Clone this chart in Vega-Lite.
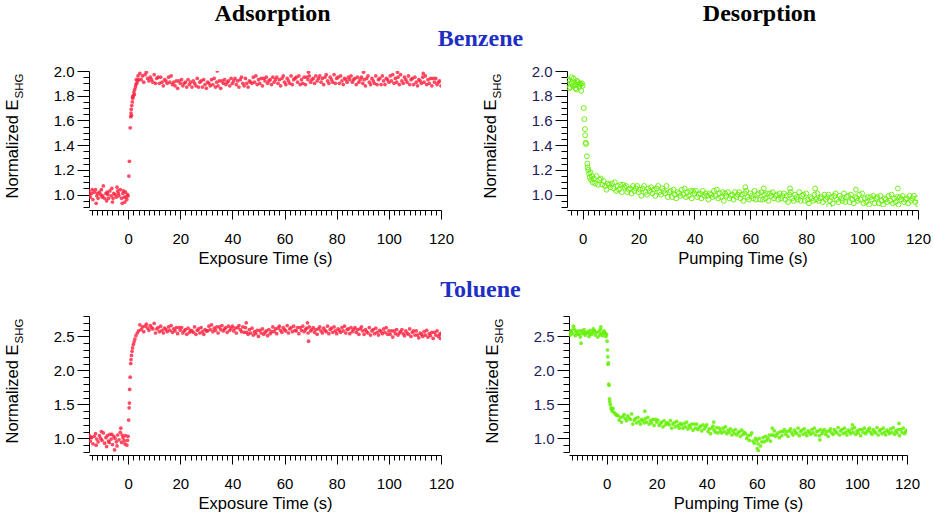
{
"$schema":"https://vega.github.io/schema/vega-lite/v6.json",
"background":"white",
"padding":{"left":4,"top":1,"right":5,"bottom":0},
"config":{"view":{"stroke":null},"font":"Liberation Sans",
"axis":{"grid":false,"labelFont":"Liberation Sans","labelFontSize":15,"labelColor":"#000","titleFont":"Liberation Sans","titleFontSize":16.5,"titleFontWeight":"normal","titleColor":"#000","domainColor":"#000","tickColor":"#000","domainWidth":1,"tickWidth":1}},
"datasets":{
"ba":[{"t":-15,"v":1.03},{"t":-14.75,"v":1.0},{"t":-14.5,"v":0.98},{"t":-14,"v":1.01},{"t":-13.75,"v":1.04},{"t":-13.5,"v":0.96},{"t":-13,"v":1.02},{"t":-12.5,"v":1.04},{"t":-12.25,"v":0.93},{"t":-12,"v":0.99},{"t":-11.75,"v":1.01},{"t":-11.5,"v":0.97},{"t":-11,"v":1.02},{"t":-10.5,"v":1.0},{"t":-10.25,"v":1.04},{"t":-10,"v":0.98},{"t":-9.75,"v":0.99},{"t":-9.5,"v":1.07},{"t":-9,"v":0.97},{"t":-8.5,"v":1.01},{"t":-8.25,"v":0.95},{"t":-8,"v":1.02},{"t":-7.75,"v":1.0},{"t":-7.5,"v":0.97},{"t":-7,"v":1.03},{"t":-6.5,"v":0.99},{"t":-6.25,"v":1.05},{"t":-6,"v":0.94},{"t":-5.75,"v":0.97},{"t":-5.5,"v":1.01},{"t":-5,"v":1.0},{"t":-4.5,"v":0.98},{"t":-4.25,"v":1.06},{"t":-4,"v":1.03},{"t":-3.75,"v":1.01},{"t":-3.5,"v":0.99},{"t":-3,"v":1.04},{"t":-2.5,"v":0.97},{"t":-2.25,"v":0.93},{"t":-2,"v":1.01},{"t":-1.75,"v":1.03},{"t":-1.5,"v":0.98},{"t":-1.25,"v":0.94},{"t":-1,"v":1.02},{"t":-0.75,"v":0.98},{"t":-0.5,"v":0.96},{"t":-0.25,"v":1.0},{"t":0,"v":0.99},
{"t":0.3,"v":1.15},{"t":0.5,"v":1.27},{"t":0.8,"v":1.54},{"t":1.0,"v":1.63},{"t":1.1,"v":1.66},{"t":1.2,"v":1.69},{"t":1.3,"v":1.64},{"t":1.4,"v":1.72},{"t":1.6,"v":1.75},{"t":1.7,"v":1.79},{"t":1.8,"v":1.78},{"t":2.0,"v":1.8},{"t":2.2,"v":1.83},{"t":2.4,"v":1.81},{"t":2.5,"v":1.85},{"t":2.8,"v":1.87},{"t":3.0,"v":1.89},{"t":3.1,"v":1.93},{"t":3.3,"v":1.9},{"t":3.6,"v":1.92},{"t":3.8,"v":1.96},{"t":4.0,"v":1.93},
{"t":4.5,"v":1.98},{"t":5,"v":1.93},{"t":5.5,"v":1.96},{"t":6,"v":1.91},{"t":6.5,"v":1.97},{"t":7,"v":1.99},{"t":7.5,"v":1.94},{"t":8,"v":1.92},{"t":8.5,"v":1.95},{"t":9,"v":1.93},{"t":9.5,"v":1.91},{"t":10,"v":1.97},{"t":10.5,"v":1.9},{"t":11,"v":1.94},{"t":11.5,"v":1.95},{"t":12,"v":1.9},{"t":12.5,"v":1.95},{"t":13,"v":1.91},{"t":13.5,"v":1.88},{"t":14,"v":1.93},{"t":14.5,"v":1.92},{"t":15,"v":1.9},{"t":15.5,"v":1.95},{"t":16,"v":1.91},{"t":16.5,"v":1.96},{"t":17,"v":1.89},{"t":17.5,"v":1.91},{"t":18,"v":1.88},{"t":18.5,"v":1.92},{"t":19,"v":1.86},{"t":19.5,"v":1.92},{"t":20,"v":1.9},{"t":20.5,"v":1.93},{"t":21,"v":1.88},{"t":21.5,"v":1.9},{"t":22,"v":1.91},{"t":22.5,"v":1.87},{"t":23,"v":1.93},{"t":23.5,"v":1.89},{"t":24,"v":1.91},{"t":24.5,"v":1.87},{"t":25,"v":1.92},{"t":25.5,"v":1.9},{"t":26,"v":1.88},{"t":26.5,"v":1.94},{"t":27,"v":1.87},{"t":27.5,"v":1.91},{"t":28,"v":1.92},{"t":28.5,"v":1.87},{"t":29,"v":1.93},{"t":29.5,"v":1.89},{"t":30,"v":1.86},{"t":30.5,"v":1.91},{"t":31,"v":1.9},{"t":31.5,"v":1.88},{"t":32,"v":1.93},{"t":32.5,"v":1.89},{"t":33,"v":1.94},{"t":33.5,"v":1.87},{"t":34,"v":1.91},{"t":34.2,"v":2.0},{"t":34.5,"v":1.88},{"t":35,"v":1.92},{"t":35.5,"v":1.86},{"t":36,"v":1.92},{"t":36.5,"v":1.9},{"t":37,"v":1.93},{"t":37.5,"v":1.89},{"t":38,"v":1.91},{"t":38.5,"v":1.92},{"t":39,"v":1.88},{"t":39.5,"v":1.94},{"t":40,"v":1.9},{"t":40.5,"v":1.92},{"t":41,"v":1.94},{"t":41.5,"v":1.89},{"t":42,"v":1.92},{"t":42.5,"v":1.87},{"t":43,"v":1.93},{"t":43.5,"v":1.95},{"t":44,"v":1.9},{"t":44.5,"v":1.88},{"t":45,"v":1.94},{"t":45.5,"v":1.9},{"t":46,"v":1.87},{"t":46.5,"v":1.92},{"t":47,"v":1.91},{"t":47.5,"v":1.9},{"t":48,"v":1.95},{"t":48.5,"v":1.91},{"t":49,"v":1.96},{"t":49.5,"v":1.89},{"t":50,"v":1.93},{"t":50.5,"v":1.9},{"t":51,"v":1.94},{"t":51.5,"v":1.88},{"t":52,"v":1.94},{"t":52.5,"v":1.92},{"t":53,"v":1.95},{"t":53.5,"v":1.9},{"t":54,"v":1.92},{"t":54.5,"v":1.93},{"t":55,"v":1.89},{"t":55.5,"v":1.95},{"t":56,"v":1.91},{"t":56.5,"v":1.93},{"t":57,"v":1.95},{"t":57.5,"v":1.9},{"t":58,"v":1.93},{"t":58.5,"v":1.88},{"t":59,"v":1.94},{"t":59.5,"v":1.96},{"t":60,"v":1.91},{"t":60.5,"v":1.89},{"t":61,"v":1.94},{"t":61.5,"v":1.92},{"t":62,"v":1.9},{"t":62.5,"v":1.96},{"t":63,"v":1.89},{"t":63.5,"v":1.93},{"t":64,"v":1.94},{"t":64.5,"v":1.95},{"t":65,"v":1.91},{"t":65.5,"v":1.96},{"t":66,"v":1.89},{"t":66.5,"v":1.93},{"t":67,"v":1.9},{"t":67.5,"v":1.95},{"t":68,"v":1.89},{"t":68.5,"v":1.95},{"t":69,"v":1.93},{"t":69.2,"v":1.99},{"t":69.5,"v":1.96},{"t":70,"v":1.91},{"t":70.5,"v":1.93},{"t":71,"v":1.94},{"t":71.5,"v":1.9},{"t":72,"v":1.96},{"t":72.5,"v":1.92},{"t":73,"v":1.94},{"t":73.5,"v":1.96},{"t":74,"v":1.91},{"t":74.5,"v":1.94},{"t":75,"v":1.89},{"t":75.5,"v":1.95},{"t":76,"v":1.97},{"t":76.5,"v":1.92},{"t":77,"v":1.9},{"t":77.5,"v":1.95},{"t":78,"v":1.93},{"t":78.5,"v":1.91},{"t":79,"v":1.97},{"t":79.5,"v":1.9},{"t":80,"v":1.94},{"t":80.5,"v":1.95},{"t":81,"v":1.9},{"t":81.5,"v":1.96},{"t":82,"v":1.92},{"t":82.5,"v":1.89},{"t":83,"v":1.94},{"t":83.5,"v":1.93},{"t":84,"v":1.91},{"t":84.5,"v":1.95},{"t":85,"v":1.93},{"t":85.5,"v":1.96},{"t":86,"v":1.91},{"t":86.5,"v":1.93},{"t":87,"v":1.94},{"t":87.5,"v":1.89},{"t":88,"v":1.95},{"t":88.5,"v":1.91},{"t":89,"v":1.93},{"t":89.5,"v":1.95},{"t":90,"v":1.9},{"t":90.3,"v":1.99},{"t":90.5,"v":1.93},{"t":91,"v":1.88},{"t":91.5,"v":1.94},{"t":92,"v":1.96},{"t":92.5,"v":1.91},{"t":93,"v":1.89},{"t":93.5,"v":1.94},{"t":94,"v":1.92},{"t":94.5,"v":1.9},{"t":95,"v":1.96},{"t":95.5,"v":1.89},{"t":96,"v":1.93},{"t":96.5,"v":1.94},{"t":97,"v":1.89},{"t":97.5,"v":1.96},{"t":98,"v":1.92},{"t":98.5,"v":1.89},{"t":99,"v":1.94},{"t":99.5,"v":1.93},{"t":100,"v":1.91},{"t":100.5,"v":1.96},{"t":101,"v":1.92},{"t":101.5,"v":1.97},{"t":102,"v":1.9},{"t":102.5,"v":1.94},{"t":103,"v":1.91},{"t":103.3,"v":1.99},{"t":103.5,"v":1.95},{"t":104,"v":1.89},{"t":104.5,"v":1.97},{"t":105,"v":1.92},{"t":105.5,"v":1.9},{"t":106,"v":1.95},{"t":106.5,"v":1.93},{"t":107,"v":1.91},{"t":107.5,"v":1.96},{"t":108,"v":1.89},{"t":108.5,"v":1.93},{"t":109,"v":1.94},{"t":109.5,"v":1.89},{"t":110,"v":1.95},{"t":110.5,"v":1.91},{"t":111,"v":1.88},{"t":111.5,"v":1.93},{"t":112,"v":1.92},{"t":112.5,"v":1.9},{"t":113,"v":1.95},{"t":113.2,"v":1.98},{"t":113.5,"v":1.91},{"t":114,"v":1.96},{"t":114.5,"v":1.89},{"t":115,"v":1.93},{"t":115.5,"v":1.9},{"t":116,"v":1.94},{"t":116.5,"v":1.88},{"t":117,"v":1.94},{"t":117.5,"v":1.91},{"t":118,"v":1.94},{"t":118.5,"v":1.89},{"t":119,"v":1.91},{"t":119.5,"v":1.92},{"t":120,"v":1.88}],
"bd":[{"t":-5.5,"v":1.9},{"t":-5.25,"v":1.92},{"t":-5,"v":1.93},{"t":-4.75,"v":1.86},{"t":-4.5,"v":1.87},{"t":-4,"v":1.95},{"t":-3.75,"v":1.9},{"t":-3.5,"v":1.88},{"t":-3.25,"v":1.94},{"t":-3,"v":1.91},{"t":-2.75,"v":1.89},{"t":-2.5,"v":1.86},{"t":-2.25,"v":1.85},{"t":-2,"v":1.92},{"t":-1.75,"v":1.91},{"t":-1.5,"v":1.89},{"t":-1.25,"v":1.87},{"t":-1,"v":1.9},{"t":-0.75,"v":1.89},{"t":-0.5,"v":1.84},{"t":-0.25,"v":1.9},{"t":0,"v":1.88},
{"t":0.4,"v":1.7},{"t":0.6,"v":1.61},{"t":0.8,"v":1.53},{"t":0.9,"v":1.48},{"t":1.1,"v":1.42},{"t":1.2,"v":1.41},{"t":1.5,"v":1.31},{"t":1.7,"v":1.25},{"t":1.8,"v":1.22},{"t":2.0,"v":1.2},{"t":2.3,"v":1.17},{"t":2.5,"v":1.14},{"t":2.8,"v":1.18},{"t":3.0,"v":1.12},{"t":3.3,"v":1.15},{"t":3.6,"v":1.1},{"t":4.0,"v":1.13},
{"t":4.5,"v":1.09},{"t":5,"v":1.15},{"t":5.5,"v":1.08},{"t":6,"v":1.12},{"t":6.5,"v":1.13},{"t":7,"v":1.08},{"t":7.5,"v":1.11},{"t":8,"v":1.07},{"t":8.5,"v":1.04},{"t":9,"v":1.09},{"t":9.5,"v":1.08},{"t":10,"v":1.06},{"t":10.5,"v":1.09},{"t":11,"v":1.05},{"t":11.5,"v":1.1},{"t":12,"v":1.03},{"t":12.5,"v":1.07},{"t":13,"v":1.04},{"t":13.5,"v":1.08},{"t":14,"v":1.02},{"t":14.5,"v":1.08},{"t":15,"v":1.06},{"t":15.5,"v":1.07},{"t":16,"v":1.02},{"t":16.5,"v":1.04},{"t":17,"v":1.05},{"t":17.5,"v":1.01},{"t":18,"v":1.07},{"t":18.5,"v":1.03},{"t":19,"v":1.05},{"t":19.5,"v":1.07},{"t":20,"v":1.02},{"t":20.5,"v":1.04},{"t":21,"v":0.99},{"t":21.5,"v":1.05},{"t":22,"v":1.07},{"t":22.5,"v":1.02},{"t":23,"v":1.0},{"t":23.5,"v":1.05},{"t":24,"v":1.03},{"t":24.5,"v":1.06},{"t":25,"v":1.01},{"t":25.5,"v":1.04},{"t":26,"v":0.99},{"t":26.5,"v":1.05},{"t":27,"v":1.07},{"t":27.5,"v":1.02},{"t":28,"v":1.0},{"t":28.5,"v":1.05},{"t":29,"v":1.03},{"t":29.5,"v":1.01},{"t":30,"v":1.07},{"t":30.5,"v":0.98},{"t":31,"v":1.02},{"t":31.5,"v":1.03},{"t":32,"v":0.98},{"t":32.5,"v":1.04},{"t":33,"v":1.0},{"t":33.5,"v":0.97},{"t":34,"v":1.02},{"t":34.5,"v":1.01},{"t":35,"v":0.99},{"t":35.5,"v":1.04},{"t":36,"v":1.0},{"t":36.5,"v":1.05},{"t":37,"v":0.98},{"t":37.5,"v":1.02},{"t":38,"v":0.99},{"t":38.5,"v":1.03},{"t":39,"v":0.97},{"t":39.5,"v":1.03},{"t":40,"v":1.01},{"t":40.5,"v":1.03},{"t":41,"v":0.98},{"t":41.5,"v":1.0},{"t":42,"v":1.01},{"t":42.5,"v":0.97},{"t":43,"v":1.03},{"t":43.5,"v":0.99},{"t":44,"v":1.01},{"t":44.5,"v":0.99},{"t":45,"v":0.96},{"t":45.5,"v":1.01},{"t":46,"v":1.0},{"t":46.5,"v":0.98},{"t":47,"v":1.03},{"t":47.5,"v":0.99},{"t":48,"v":1.04},{"t":48.5,"v":0.97},{"t":49,"v":1.01},{"t":49.5,"v":0.98},{"t":50,"v":1.02},{"t":50.5,"v":0.95},{"t":51,"v":1.01},{"t":51.5,"v":0.99},{"t":52,"v":1.02},{"t":52.5,"v":0.97},{"t":53,"v":0.99},{"t":53.5,"v":1.0},{"t":54,"v":0.96},{"t":54.5,"v":1.02},{"t":55,"v":0.98},{"t":55.5,"v":1.0},{"t":56,"v":1.02},{"t":56.5,"v":0.97},{"t":57,"v":1.0},{"t":57.5,"v":0.95},{"t":58,"v":1.01},{"t":58.2,"v":1.06},{"t":58.5,"v":1.03},{"t":59,"v":0.98},{"t":59.5,"v":0.96},{"t":60,"v":1.01},{"t":60.5,"v":0.99},{"t":61,"v":0.97},{"t":61.5,"v":1.03},{"t":62,"v":0.96},{"t":62.5,"v":1.0},{"t":63,"v":1.01},{"t":63.5,"v":0.96},{"t":64,"v":1.02},{"t":64.5,"v":0.96},{"t":64.8,"v":1.05},{"t":65,"v":1.0},{"t":65.5,"v":0.97},{"t":66,"v":1.01},{"t":66.5,"v":0.95},{"t":67,"v":1.01},{"t":67.5,"v":0.99},{"t":68,"v":1.02},{"t":68.5,"v":0.97},{"t":69,"v":0.99},{"t":69.5,"v":1.0},{"t":70,"v":0.96},{"t":70.5,"v":1.01},{"t":71,"v":0.97},{"t":71.5,"v":0.99},{"t":72,"v":1.01},{"t":72.5,"v":0.96},{"t":73,"v":0.99},{"t":73.5,"v":0.94},{"t":74,"v":1.0},{"t":74.2,"v":1.05},{"t":74.5,"v":1.02},{"t":75,"v":0.97},{"t":75.5,"v":0.95},{"t":76,"v":1.0},{"t":76.5,"v":0.98},{"t":77,"v":0.96},{"t":77.5,"v":1.02},{"t":78,"v":0.95},{"t":78.5,"v":0.99},{"t":79,"v":1.0},{"t":79.5,"v":0.95},{"t":80,"v":1.01},{"t":80.5,"v":0.96},{"t":81,"v":0.93},{"t":81.5,"v":0.98},{"t":82,"v":0.97},{"t":82.5,"v":0.95},{"t":83,"v":1.0},{"t":83.2,"v":1.05},{"t":83.5,"v":0.96},{"t":84,"v":1.01},{"t":84.5,"v":0.95},{"t":85,"v":0.97},{"t":85.5,"v":0.98},{"t":86,"v":0.94},{"t":86.5,"v":1.0},{"t":87,"v":0.96},{"t":87.5,"v":0.98},{"t":88,"v":1.0},{"t":88.2,"v":0.91},{"t":88.5,"v":0.95},{"t":89,"v":0.98},{"t":89.5,"v":0.93},{"t":90,"v":0.99},{"t":90.5,"v":1.01},{"t":91,"v":0.96},{"t":91.5,"v":0.94},{"t":92,"v":0.99},{"t":92.5,"v":0.97},{"t":93,"v":0.95},{"t":93.5,"v":1.01},{"t":94,"v":0.94},{"t":94.5,"v":0.98},{"t":95,"v":0.99},{"t":95.5,"v":0.94},{"t":96,"v":1.0},{"t":96.5,"v":0.96},{"t":97,"v":0.93},{"t":97.5,"v":0.98},{"t":97.8,"v":1.04},{"t":98,"v":0.97},{"t":98.5,"v":0.95},{"t":99,"v":1.0},{"t":99.5,"v":0.96},{"t":100,"v":1.01},{"t":100.5,"v":0.93},{"t":101,"v":0.97},{"t":101.5,"v":0.94},{"t":102,"v":0.98},{"t":102.5,"v":0.92},{"t":103,"v":0.98},{"t":103.5,"v":0.96},{"t":104,"v":0.99},{"t":104.5,"v":0.93},{"t":105,"v":0.97},{"t":105.5,"v":0.98},{"t":106,"v":0.93},{"t":106.5,"v":0.99},{"t":107,"v":0.95},{"t":107.5,"v":0.92},{"t":108,"v":0.97},{"t":108.5,"v":0.96},{"t":109,"v":0.94},{"t":109.5,"v":0.99},{"t":110,"v":0.95},{"t":110.5,"v":1.0},{"t":111,"v":0.93},{"t":111.5,"v":0.97},{"t":112,"v":0.94},{"t":112.5,"v":0.98},{"t":112.8,"v":1.05},{"t":113,"v":0.92},{"t":113.5,"v":0.98},{"t":114,"v":0.96},{"t":114.5,"v":0.99},{"t":115,"v":0.94},{"t":115.5,"v":0.96},{"t":116,"v":0.97},{"t":116.5,"v":0.93},{"t":117,"v":0.99},{"t":117.5,"v":0.95},{"t":118,"v":0.97},{"t":118.5,"v":0.99},{"t":119,"v":0.94},{"t":119.5,"v":0.97},{"t":120,"v":0.92}],
"ta":[{"t":-15,"v":1.05},{"t":-14.5,"v":0.96},{"t":-14.25,"v":1.02},{"t":-14,"v":1.01},{"t":-13.5,"v":0.92},{"t":-13,"v":1.03},{"t":-12.5,"v":1.07},{"t":-12.25,"v":0.9},{"t":-12,"v":0.99},{"t":-11.5,"v":0.95},{"t":-11,"v":1.04},{"t":-10.5,"v":1.0},{"t":-10.25,"v":1.1},{"t":-10,"v":0.97},{"t":-9.5,"v":1.08},{"t":-9,"v":0.93},{"t":-8.5,"v":1.01},{"t":-8.25,"v":0.88},{"t":-8,"v":1.04},{"t":-7.5,"v":0.96},{"t":-7.25,"v":0.94},{"t":-7,"v":1.06},{"t":-6.5,"v":0.99},{"t":-6.25,"v":1.06},{"t":-6,"v":0.91},{"t":-5.5,"v":1.03},{"t":-5.2,"v":0.83},{"t":-5,"v":1.0},{"t":-4.5,"v":0.95},{"t":-4.25,"v":0.89},{"t":-4,"v":1.05},{"t":-3.5,"v":0.98},{"t":-3,"v":1.09},{"t":-2.8,"v":1.15},{"t":-2.5,"v":0.94},{"t":-2.25,"v":1.05},{"t":-2,"v":1.01},{"t":-1.5,"v":0.97},{"t":-1.25,"v":0.92},{"t":-1,"v":1.04},{"t":-0.5,"v":0.9},{"t":-0.25,"v":0.97},{"t":0,"v":1.03},
{"t":0.2,"v":1.27},{"t":0.4,"v":1.45},{"t":0.5,"v":1.52},{"t":0.6,"v":1.72},{"t":0.8,"v":1.9},{"t":1.0,"v":2.1},{"t":1.1,"v":2.16},{"t":1.3,"v":2.22},{"t":1.5,"v":2.28},{"t":1.7,"v":2.33},{"t":2.0,"v":2.38},{"t":2.3,"v":2.42},{"t":2.6,"v":2.46},{"t":3.0,"v":2.51},{"t":3.5,"v":2.55},{"t":4.0,"v":2.58},
{"t":4.5,"v":2.67},{"t":5,"v":2.6},{"t":5.5,"v":2.64},{"t":6,"v":2.57},{"t":6.5,"v":2.65},{"t":7,"v":2.68},{"t":7.5,"v":2.62},{"t":8,"v":2.59},{"t":8.5,"v":2.66},{"t":9,"v":2.63},{"t":9.5,"v":2.61},{"t":10,"v":2.69},{"t":10.5,"v":2.55},{"t":11,"v":2.61},{"t":11.5,"v":2.63},{"t":12,"v":2.57},{"t":12.5,"v":2.65},{"t":13,"v":2.59},{"t":13.5,"v":2.55},{"t":14,"v":2.62},{"t":14.5,"v":2.6},{"t":15,"v":2.57},{"t":15.5,"v":2.64},{"t":16,"v":2.59},{"t":16.5,"v":2.66},{"t":17,"v":2.56},{"t":17.5,"v":2.61},{"t":18,"v":2.58},{"t":18.5,"v":2.63},{"t":19,"v":2.54},{"t":19.5,"v":2.63},{"t":20,"v":2.59},{"t":20.5,"v":2.63},{"t":21,"v":2.55},{"t":21.5,"v":2.58},{"t":22,"v":2.6},{"t":22.5,"v":2.53},{"t":23,"v":2.62},{"t":23.5,"v":2.56},{"t":24,"v":2.59},{"t":24.5,"v":2.58},{"t":25,"v":2.56},{"t":25.5,"v":2.64},{"t":26,"v":2.53},{"t":26.5,"v":2.59},{"t":27,"v":2.61},{"t":27.5,"v":2.55},{"t":28,"v":2.63},{"t":28.5,"v":2.57},{"t":29,"v":2.53},{"t":29.5,"v":2.6},{"t":30,"v":2.58},{"t":30.5,"v":2.58},{"t":31,"v":2.65},{"t":31.5,"v":2.6},{"t":32,"v":2.67},{"t":32.5,"v":2.57},{"t":33,"v":2.62},{"t":33.5,"v":2.59},{"t":34,"v":2.64},{"t":34.5,"v":2.55},{"t":35,"v":2.64},{"t":35.5,"v":2.6},{"t":36,"v":2.66},{"t":36.5,"v":2.58},{"t":37,"v":2.61},{"t":37.5,"v":2.63},{"t":38,"v":2.56},{"t":38.5,"v":2.65},{"t":39,"v":2.59},{"t":39.5,"v":2.62},{"t":40,"v":2.65},{"t":40.5,"v":2.58},{"t":41,"v":2.62},{"t":41.5,"v":2.55},{"t":42,"v":2.63},{"t":42.5,"v":2.66},{"t":43,"v":2.6},{"t":43.5,"v":2.57},{"t":44,"v":2.64},{"t":44.5,"v":2.56},{"t":45,"v":2.63},{"t":45.3,"v":2.7},{"t":45.5,"v":2.56},{"t":46,"v":2.53},{"t":46.5,"v":2.6},{"t":47,"v":2.55},{"t":47.5,"v":2.62},{"t":48,"v":2.52},{"t":48.5,"v":2.57},{"t":49,"v":2.54},{"t":49.5,"v":2.59},{"t":50,"v":2.5},{"t":50.5,"v":2.59},{"t":51,"v":2.55},{"t":51.5,"v":2.61},{"t":52,"v":2.53},{"t":52.5,"v":2.56},{"t":53,"v":2.58},{"t":53.5,"v":2.51},{"t":54,"v":2.6},{"t":54.5,"v":2.54},{"t":55,"v":2.57},{"t":55.5,"v":2.64},{"t":56,"v":2.57},{"t":56.5,"v":2.61},{"t":57,"v":2.54},{"t":57.5,"v":2.62},{"t":58,"v":2.65},{"t":58.5,"v":2.59},{"t":59,"v":2.56},{"t":59.5,"v":2.63},{"t":60,"v":2.6},{"t":60.5,"v":2.58},{"t":61,"v":2.66},{"t":61.5,"v":2.55},{"t":62,"v":2.61},{"t":62.5,"v":2.63},{"t":63,"v":2.57},{"t":63.5,"v":2.65},{"t":64,"v":2.59},{"t":64.5,"v":2.58},{"t":65,"v":2.63},{"t":65.5,"v":2.54},{"t":66,"v":2.63},{"t":66.5,"v":2.59},{"t":67,"v":2.65},{"t":67.5,"v":2.57},{"t":68,"v":2.6},{"t":68.5,"v":2.62},{"t":68.8,"v":2.7},{"t":69,"v":2.55},{"t":69.2,"v":2.43},{"t":69.5,"v":2.64},{"t":70,"v":2.58},{"t":70.5,"v":2.6},{"t":71,"v":2.63},{"t":71.5,"v":2.56},{"t":72,"v":2.6},{"t":72.5,"v":2.53},{"t":73,"v":2.61},{"t":73.5,"v":2.64},{"t":74,"v":2.58},{"t":74.5,"v":2.55},{"t":75,"v":2.62},{"t":75.5,"v":2.59},{"t":76,"v":2.57},{"t":76.5,"v":2.65},{"t":77,"v":2.54},{"t":77.5,"v":2.6},{"t":78,"v":2.62},{"t":78.5,"v":2.56},{"t":79,"v":2.64},{"t":79.5,"v":2.58},{"t":80,"v":2.54},{"t":80.5,"v":2.61},{"t":81,"v":2.59},{"t":81.5,"v":2.56},{"t":82,"v":2.63},{"t":82.5,"v":2.58},{"t":83,"v":2.65},{"t":83.5,"v":2.55},{"t":84,"v":2.6},{"t":84.5,"v":2.61},{"t":85,"v":2.54},{"t":85.5,"v":2.63},{"t":86,"v":2.57},{"t":86.5,"v":2.6},{"t":87,"v":2.63},{"t":87.5,"v":2.56},{"t":88,"v":2.6},{"t":88.5,"v":2.53},{"t":89,"v":2.61},{"t":89.5,"v":2.64},{"t":90,"v":2.58},{"t":90.5,"v":2.53},{"t":91,"v":2.6},{"t":91.5,"v":2.57},{"t":92,"v":2.55},{"t":92.5,"v":2.63},{"t":93,"v":2.52},{"t":93.5,"v":2.58},{"t":94,"v":2.6},{"t":94.5,"v":2.54},{"t":95,"v":2.62},{"t":95.5,"v":2.56},{"t":96,"v":2.52},{"t":96.5,"v":2.59},{"t":97,"v":2.57},{"t":97.5,"v":2.54},{"t":98,"v":2.61},{"t":98.5,"v":2.56},{"t":99,"v":2.63},{"t":99.5,"v":2.53},{"t":100,"v":2.58},{"t":100.5,"v":2.53},{"t":101,"v":2.58},{"t":101.5,"v":2.49},{"t":102,"v":2.58},{"t":102.5,"v":2.54},{"t":103,"v":2.6},{"t":103.5,"v":2.52},{"t":104,"v":2.55},{"t":104.5,"v":2.57},{"t":105,"v":2.6},{"t":105.5,"v":2.54},{"t":106,"v":2.51},{"t":106.5,"v":2.58},{"t":107,"v":2.55},{"t":107.5,"v":2.53},{"t":108,"v":2.61},{"t":108.5,"v":2.5},{"t":109,"v":2.56},{"t":109.5,"v":2.58},{"t":110,"v":2.52},{"t":110.5,"v":2.58},{"t":111,"v":2.52},{"t":111.5,"v":2.48},{"t":112,"v":2.55},{"t":112.5,"v":2.53},{"t":113,"v":2.5},{"t":113.5,"v":2.57},{"t":114,"v":2.52},{"t":114.5,"v":2.59},{"t":115,"v":2.49},{"t":115.5,"v":2.54},{"t":116,"v":2.51},{"t":116.5,"v":2.56},{"t":117,"v":2.47},{"t":117.5,"v":2.56},{"t":118,"v":2.52},{"t":118.5,"v":2.58},{"t":119,"v":2.5},{"t":119.5,"v":2.53},{"t":119.8,"v":2.47},{"t":120,"v":2.55}],
"td":[{"t":-15,"v":2.55},{"t":-14.5,"v":2.52},{"t":-14.25,"v":2.57},{"t":-14,"v":2.59},{"t":-13.5,"v":2.54},{"t":-13.2,"v":2.65},{"t":-13,"v":2.61},{"t":-12.5,"v":2.51},{"t":-12.25,"v":2.58},{"t":-12,"v":2.56},{"t":-11.5,"v":2.53},{"t":-11,"v":2.58},{"t":-10.75,"v":2.53},{"t":-10.5,"v":2.49},{"t":-10.2,"v":2.4},{"t":-10,"v":2.58},{"t":-9.5,"v":2.54},{"t":-9,"v":2.6},{"t":-8.75,"v":2.56},{"t":-8.5,"v":2.52},{"t":-8,"v":2.55},{"t":-7.5,"v":2.57},{"t":-7,"v":2.5},{"t":-6.75,"v":2.54},{"t":-6.5,"v":2.59},{"t":-6,"v":2.53},{"t":-5.5,"v":2.56},{"t":-5.25,"v":2.61},{"t":-5,"v":2.59},{"t":-4.75,"v":2.57},{"t":-4.5,"v":2.52},{"t":-4,"v":2.56},{"t":-3.5,"v":2.49},{"t":-3,"v":2.57},{"t":-2.75,"v":2.52},{"t":-2.5,"v":2.6},{"t":-2.3,"v":2.64},{"t":-2,"v":2.54},{"t":-1.5,"v":2.51},{"t":-1.25,"v":2.56},{"t":-1,"v":2.58},{"t":-0.5,"v":2.55},{"t":-0.25,"v":2.5},{"t":0,"v":2.53},
{"t":0.2,"v":2.43},{"t":0.35,"v":2.3},{"t":0.5,"v":2.2},{"t":0.6,"v":2.09},{"t":0.7,"v":2.11},{"t":0.9,"v":1.8},{"t":1.0,"v":1.78},{"t":1.2,"v":1.58},{"t":1.3,"v":1.54},{"t":1.5,"v":1.5},{"t":1.8,"v":1.45},{"t":2.0,"v":1.43},{"t":2.3,"v":1.4},{"t":2.6,"v":1.44},{"t":3.0,"v":1.38},{"t":3.5,"v":1.36},{"t":4.0,"v":1.34},
{"t":4.5,"v":1.34},{"t":5,"v":1.27},{"t":5.5,"v":1.31},{"t":6,"v":1.24},{"t":6.5,"v":1.32},{"t":7,"v":1.35},{"t":7.5,"v":1.29},{"t":8,"v":1.26},{"t":8.5,"v":1.33},{"t":9,"v":1.3},{"t":9.5,"v":1.28},{"t":10,"v":1.36},{"t":10.5,"v":1.21},{"t":11,"v":1.27},{"t":11.5,"v":1.29},{"t":12,"v":1.23},{"t":12.5,"v":1.31},{"t":13,"v":1.25},{"t":13.5,"v":1.21},{"t":14,"v":1.28},{"t":14.5,"v":1.26},{"t":15,"v":1.23},{"t":15.3,"v":1.4},{"t":15.5,"v":1.29},{"t":16,"v":1.24},{"t":16.5,"v":1.31},{"t":17,"v":1.21},{"t":17.5,"v":1.26},{"t":18,"v":1.23},{"t":18.5,"v":1.28},{"t":19,"v":1.19},{"t":19.5,"v":1.28},{"t":20,"v":1.24},{"t":20.5,"v":1.27},{"t":21,"v":1.19},{"t":21.5,"v":1.22},{"t":22,"v":1.24},{"t":22.5,"v":1.17},{"t":23,"v":1.26},{"t":23.5,"v":1.2},{"t":24,"v":1.23},{"t":24.5,"v":1.22},{"t":25,"v":1.2},{"t":25.5,"v":1.26},{"t":26,"v":1.15},{"t":26.5,"v":1.21},{"t":27,"v":1.23},{"t":27.5,"v":1.17},{"t":28,"v":1.25},{"t":28.5,"v":1.19},{"t":29,"v":1.15},{"t":29.5,"v":1.22},{"t":30,"v":1.2},{"t":30.5,"v":1.15},{"t":31,"v":1.22},{"t":31.5,"v":1.17},{"t":32,"v":1.24},{"t":32.5,"v":1.14},{"t":33,"v":1.19},{"t":33.5,"v":1.16},{"t":34,"v":1.21},{"t":34.5,"v":1.12},{"t":35,"v":1.21},{"t":35.5,"v":1.15},{"t":36,"v":1.21},{"t":36.5,"v":1.13},{"t":37,"v":1.16},{"t":37.5,"v":1.18},{"t":38,"v":1.11},{"t":38.5,"v":1.2},{"t":39,"v":1.14},{"t":39.5,"v":1.17},{"t":40,"v":1.2},{"t":40.5,"v":1.1},{"t":41,"v":1.14},{"t":41.5,"v":1.07},{"t":42,"v":1.15},{"t":42.5,"v":1.18},{"t":42.8,"v":1.24},{"t":43,"v":1.12},{"t":43.5,"v":1.09},{"t":44,"v":1.16},{"t":44.5,"v":1.08},{"t":45,"v":1.15},{"t":45.5,"v":1.11},{"t":46,"v":1.08},{"t":46.5,"v":1.15},{"t":47,"v":1.1},{"t":47.5,"v":1.17},{"t":48,"v":1.07},{"t":48.5,"v":1.12},{"t":49,"v":1.09},{"t":49.5,"v":1.14},{"t":50,"v":1.05},{"t":50.5,"v":1.11},{"t":51,"v":1.07},{"t":51.5,"v":1.13},{"t":52,"v":1.05},{"t":52.5,"v":1.08},{"t":53,"v":1.1},{"t":53.5,"v":1.03},{"t":54,"v":1.12},{"t":54.5,"v":1.06},{"t":55,"v":1.09},{"t":55.5,"v":1.07},{"t":56,"v":1.0},{"t":56.5,"v":1.04},{"t":57,"v":0.97},{"t":57.5,"v":1.05},{"t":58,"v":1.08},{"t":58.5,"v":0.96},{"t":59,"v":0.93},{"t":59.5,"v":1.0},{"t":60,"v":0.97},{"t":60.2,"v":0.85},{"t":60.5,"v":0.92},{"t":60.6,"v":0.82},{"t":61,"v":1.0},{"t":61.5,"v":0.89},{"t":62,"v":0.95},{"t":62.5,"v":1.01},{"t":63,"v":0.95},{"t":63.5,"v":1.03},{"t":64,"v":0.97},{"t":64.5,"v":1.0},{"t":65,"v":1.05},{"t":65.5,"v":0.96},{"t":66,"v":1.05},{"t":66.2,"v":1.15},{"t":66.5,"v":1.05},{"t":67,"v":1.11},{"t":67.5,"v":1.03},{"t":68,"v":1.06},{"t":68.5,"v":1.08},{"t":69,"v":1.01},{"t":69.5,"v":1.1},{"t":70,"v":1.04},{"t":70.5,"v":1.1},{"t":71,"v":1.13},{"t":71.5,"v":1.06},{"t":72,"v":1.1},{"t":72.5,"v":1.03},{"t":73,"v":1.11},{"t":73.5,"v":1.14},{"t":74,"v":1.08},{"t":74.5,"v":1.05},{"t":75,"v":1.12},{"t":75.5,"v":1.09},{"t":76,"v":1.07},{"t":76.5,"v":1.15},{"t":77,"v":1.04},{"t":77.5,"v":1.1},{"t":78,"v":1.12},{"t":78.5,"v":1.06},{"t":79,"v":1.14},{"t":79.5,"v":1.08},{"t":80,"v":1.04},{"t":80.5,"v":1.11},{"t":81,"v":1.09},{"t":81.5,"v":1.06},{"t":82,"v":1.13},{"t":82.5,"v":1.08},{"t":83,"v":1.15},{"t":83.5,"v":1.05},{"t":84,"v":1.1},{"t":84.5,"v":1.11},{"t":85,"v":1.04},{"t":85.2,"v":0.98},{"t":85.5,"v":1.13},{"t":86,"v":1.07},{"t":86.5,"v":1.1},{"t":87,"v":1.13},{"t":87.5,"v":1.06},{"t":88,"v":1.1},{"t":88.5,"v":1.03},{"t":89,"v":1.11},{"t":89.5,"v":1.14},{"t":90,"v":1.08},{"t":90.5,"v":1.06},{"t":91,"v":1.13},{"t":91.5,"v":1.1},{"t":92,"v":1.08},{"t":92.5,"v":1.16},{"t":93,"v":1.05},{"t":93.5,"v":1.11},{"t":94,"v":1.13},{"t":94.5,"v":1.07},{"t":95,"v":1.15},{"t":95.5,"v":1.09},{"t":96,"v":1.05},{"t":96.5,"v":1.12},{"t":97,"v":1.1},{"t":97.5,"v":1.07},{"t":98,"v":1.14},{"t":98.2,"v":1.2},{"t":98.5,"v":1.09},{"t":99,"v":1.16},{"t":99.5,"v":1.06},{"t":100,"v":1.11},{"t":100.5,"v":1.08},{"t":101,"v":1.13},{"t":101.5,"v":1.04},{"t":102,"v":1.13},{"t":102.5,"v":1.09},{"t":103,"v":1.15},{"t":103.5,"v":1.07},{"t":104,"v":1.1},{"t":104.5,"v":1.12},{"t":105,"v":1.15},{"t":105.5,"v":1.09},{"t":106,"v":1.06},{"t":106.5,"v":1.13},{"t":107,"v":1.1},{"t":107.5,"v":1.08},{"t":108,"v":1.16},{"t":108.5,"v":1.05},{"t":109,"v":1.11},{"t":109.5,"v":1.13},{"t":110,"v":1.07},{"t":110.5,"v":1.15},{"t":111,"v":1.09},{"t":111.5,"v":1.05},{"t":112,"v":1.12},{"t":112.5,"v":1.1},{"t":113,"v":1.07},{"t":113.5,"v":1.14},{"t":114,"v":1.09},{"t":114.5,"v":1.16},{"t":115,"v":1.06},{"t":115.5,"v":1.11},{"t":116,"v":1.08},{"t":116.5,"v":1.13},{"t":116.8,"v":1.22},{"t":117,"v":1.04},{"t":117.5,"v":1.13},{"t":118,"v":1.09},{"t":118.5,"v":1.15},{"t":119,"v":1.07},{"t":119.5,"v":1.1},{"t":120,"v":1.12}]
},
"spacing":10,
"vconcat":[
{"bounds":"flush","spacing":126,
 "hconcat":[
 {"width":352,"height":136,
  "layer":[
   {"data":{"name":"ba"},"mark":{"type":"point","filled":true,"size":14,"color":"#ff1f3d","opacity":0.8,"clip":true},
    "encoding":{
     "x":{"field":"t","type":"quantitative","scale":{"domain":[-15,120],"nice":false,"zero":false},
      "axis":{"title":"Exposure Time (s)","values":[-14,-12,-10,-8,-6,-4,-2,0,2,4,6,8,10,12,14,16,18,20,22,24,26,28,30,32,34,36,38,40,42,44,46,48,50,52,54,56,58,60,62,64,66,68,70,72,74,76,78,80,82,84,86,88,90,92,94,96,98,100,102,104,106,108,110,112,114,116,118,120],"labelExpr":"datum.value % 20 === 0 ? datum.label : ''","tickSize":{"condition":{"test":"datum.value % 20 === 0","value":9},"value":5},"offset":3,"labelPadding":12,"labelOverlap":false,"labelFlush":false,"titlePadding":4}},
     "y":{"field":"v","type":"quantitative","scale":{"domain":[0.9,2.0],"nice":false,"zero":false},
      "axis":{"title":"Normalized E","values":[0.9,0.95,1,1.05,1.1,1.15,1.2,1.25,1.3,1.35,1.4,1.45,1.5,1.55,1.6,1.65,1.7,1.75,1.8,1.85,1.9,1.95,2],"format":".1f","labelExpr":"abs(datum.value*5-round(datum.value*5))<0.01 ? datum.label : ''","tickSize":{"condition":{"test":"abs(datum.value*5-round(datum.value*5))<0.01","value":12},"value":6},"labelPadding":3,"labelOverlap":false,"labelFlush":false,"titleAngle":270,"titleX":-72,"titleY":127,"titleAlign":"left","titleBaseline":"alphabetic"}}}},
   {"data":{"name":"ba"},"mark":{"type":"point","opacity":0},
    "encoding":{
     "x":{"field":"t","type":"quantitative","scale":{"domain":[-15,120],"nice":false,"zero":false},
      "axis":{"orient":"top","title":"Adsorption","labels":false,"ticks":false,"domain":false,"titleFont":"Liberation Serif","titleFontSize":24,"titleFontWeight":"bold","titleColor":"#000","titleX":183,"titleY":-51,"titleAlign":"center","titleBaseline":"alphabetic","titleAngle":0}},
     "y":{"field":"v","type":"quantitative","scale":{"domain":[0.9,2.0],"nice":false,"zero":false},
     "axis":{"title":"SHG","orient":"left","labels":false,"ticks":false,"domain":false,"titleFontSize":11.5,"titleAngle":270,"titleX":-67,"titleY":27,"titleAlign":"left","titleBaseline":"alphabetic"}}}},
   {"data":{"name":"ba"},"mark":{"type":"point","opacity":0},
    "encoding":{
     "x":{"field":"t","type":"quantitative","scale":{"domain":[-15,120],"nice":false,"zero":false},
      "axis":{"orient":"top","title":"Benzene","labels":false,"ticks":false,"domain":false,"titleFont":"Liberation Serif","titleFontSize":24,"titleFontWeight":"bold","titleColor":"#1f2fc4","titleX":391,"titleY":-26,"titleAlign":"center","titleBaseline":"alphabetic","titleAngle":0}}}}
  ],
  "resolve":{"axis":{"x":"independent","y":"independent"}}},
 {"width":351,"height":136,
  "layer":[
   {"data":{"name":"bd"},"mark":{"type":"point","filled":false,"size":24,"strokeWidth":1,"color":"#62f000","opacity":0.9,"clip":true},
    "encoding":{
     "x":{"field":"t","type":"quantitative","scale":{"domain":[-5.6,120],"nice":false,"zero":false},
      "axis":{"title":"Pumping Time (s)","values":[-4,-2,0,2,4,6,8,10,12,14,16,18,20,22,24,26,28,30,32,34,36,38,40,42,44,46,48,50,52,54,56,58,60,62,64,66,68,70,72,74,76,78,80,82,84,86,88,90,92,94,96,98,100,102,104,106,108,110,112,114,116,118,120],"labelExpr":"datum.value % 20 === 0 ? datum.label : ''","tickSize":{"condition":{"test":"datum.value % 20 === 0","value":9},"value":5},"offset":3,"labelPadding":12,"labelOverlap":false,"labelFlush":false,"titlePadding":4}},
     "y":{"field":"v","type":"quantitative","scale":{"domain":[0.9,2.0],"nice":false,"zero":false},
      "axis":{"title":"Normalized E","labelColor":"#1c1c5c","values":[0.9,0.95,1,1.05,1.1,1.15,1.2,1.25,1.3,1.35,1.4,1.45,1.5,1.55,1.6,1.65,1.7,1.75,1.8,1.85,1.9,1.95,2],"format":".1f","labelExpr":"abs(datum.value*5-round(datum.value*5))<0.01 ? datum.label : ''","tickSize":{"condition":{"test":"abs(datum.value*5-round(datum.value*5))<0.01","value":12},"value":6},"labelPadding":3,"labelOverlap":false,"labelFlush":false,"titleAngle":270,"titleX":-72,"titleY":127,"titleAlign":"left","titleBaseline":"alphabetic"}}}},
   {"data":{"name":"bd"},"mark":{"type":"point","opacity":0},
    "encoding":{
     "x":{"field":"t","type":"quantitative","scale":{"domain":[-5.6,120],"nice":false,"zero":false},
      "axis":{"orient":"top","title":"Desorption","labels":false,"ticks":false,"domain":false,"titleFont":"Liberation Serif","titleFontSize":24,"titleFontWeight":"bold","titleColor":"#000","titleX":192,"titleY":-51,"titleAlign":"center","titleBaseline":"alphabetic","titleAngle":0}},
     "y":{"field":"v","type":"quantitative","scale":{"domain":[0.9,2.0],"nice":false,"zero":false},
     "axis":{"title":"SHG","orient":"left","labels":false,"ticks":false,"domain":false,"titleFontSize":11.5,"titleAngle":270,"titleX":-67,"titleY":27,"titleAlign":"left","titleBaseline":"alphabetic"}}}}
  ],
  "resolve":{"axis":{"x":"independent","y":"independent"}}}
 ]},
{"bounds":"flush","spacing":128,
 "hconcat":[
 {"width":352,"height":136,
  "layer":[
   {"data":{"name":"ta"},"mark":{"type":"point","filled":true,"size":14,"color":"#ff1f3d","opacity":0.8,"clip":true},
    "encoding":{
     "x":{"field":"t","type":"quantitative","scale":{"domain":[-15,120],"nice":false,"zero":false},
      "axis":{"title":"Exposure Time (s)","values":[-14,-12,-10,-8,-6,-4,-2,0,2,4,6,8,10,12,14,16,18,20,22,24,26,28,30,32,34,36,38,40,42,44,46,48,50,52,54,56,58,60,62,64,66,68,70,72,74,76,78,80,82,84,86,88,90,92,94,96,98,100,102,104,106,108,110,112,114,116,118,120],"labelExpr":"datum.value % 20 === 0 ? datum.label : ''","tickSize":{"condition":{"test":"datum.value % 20 === 0","value":9},"value":5},"offset":3,"labelPadding":12,"labelOverlap":false,"labelFlush":false,"titlePadding":4}},
     "y":{"field":"v","type":"quantitative","scale":{"domain":[0.8,2.8],"nice":false,"zero":false},
      "axis":{"title":"Normalized E","values":[0.8,0.9,1,1.1,1.2,1.3,1.4,1.5,1.6,1.7,1.8,1.9,2,2.1,2.2,2.3,2.4,2.5,2.6,2.7,2.8],"format":".1f","labelExpr":"abs(datum.value*2-round(datum.value*2))<0.01 ? datum.label : ''","tickSize":{"condition":{"test":"abs(datum.value*2-round(datum.value*2))<0.01","value":12},"value":6},"labelPadding":3,"labelOverlap":false,"labelFlush":false,"titleAngle":270,"titleX":-72,"titleY":127,"titleAlign":"left","titleBaseline":"alphabetic"}}}},
   {"data":{"name":"ta"},"mark":{"type":"point","opacity":0},
    "encoding":{
     "x":{"field":"t","type":"quantitative","scale":{"domain":[-15,120],"nice":false,"zero":false},
      "axis":{"orient":"top","title":"Toluene","labels":false,"ticks":false,"domain":false,"titleFont":"Liberation Serif","titleFontSize":24,"titleFontWeight":"bold","titleColor":"#1f2fc4","titleX":391,"titleY":-20,"titleAlign":"center","titleBaseline":"alphabetic","titleAngle":0}},
     "y":{"field":"v","type":"quantitative","scale":{"domain":[0.8,2.8],"nice":false,"zero":false},
     "axis":{"title":"SHG","orient":"left","labels":false,"ticks":false,"domain":false,"titleFontSize":11.5,"titleAngle":270,"titleX":-67,"titleY":27,"titleAlign":"left","titleBaseline":"alphabetic"}}}}
  ],
  "resolve":{"axis":{"x":"independent","y":"independent"}}},
 {"width":338,"height":136,
  "layer":[
   {"data":{"name":"td"},"mark":{"type":"point","filled":true,"size":14,"color":"#62f000","opacity":0.85,"clip":true},
    "encoding":{
     "x":{"field":"t","type":"quantitative","scale":{"domain":[-15,120],"nice":false,"zero":false},
      "axis":{"title":"Pumping Time (s)","values":[-14,-12,-10,-8,-6,-4,-2,0,2,4,6,8,10,12,14,16,18,20,22,24,26,28,30,32,34,36,38,40,42,44,46,48,50,52,54,56,58,60,62,64,66,68,70,72,74,76,78,80,82,84,86,88,90,92,94,96,98,100,102,104,106,108,110,112,114,116,118,120],"labelExpr":"datum.value % 20 === 0 ? datum.label : ''","tickSize":{"condition":{"test":"datum.value % 20 === 0","value":9},"value":5},"offset":3,"labelPadding":12,"labelOverlap":false,"labelFlush":false,"titlePadding":4}},
     "y":{"field":"v","type":"quantitative","scale":{"domain":[0.8,2.8],"nice":false,"zero":false},
      "axis":{"title":"Normalized E","labelColor":"#1c1c5c","values":[0.8,0.9,1,1.1,1.2,1.3,1.4,1.5,1.6,1.7,1.8,1.9,2,2.1,2.2,2.3,2.4,2.5,2.6,2.7,2.8],"format":".1f","labelExpr":"abs(datum.value*2-round(datum.value*2))<0.01 ? datum.label : ''","tickSize":{"condition":{"test":"abs(datum.value*2-round(datum.value*2))<0.01","value":12},"value":6},"labelPadding":3,"labelOverlap":false,"labelFlush":false,"titleAngle":270,"titleX":-72,"titleY":127,"titleAlign":"left","titleBaseline":"alphabetic"}}}},
   {"data":{"name":"td"},"mark":{"type":"point","opacity":0},
    "encoding":{"y":{"field":"v","type":"quantitative","scale":{"domain":[0.8,2.8],"nice":false,"zero":false},
     "axis":{"title":"SHG","orient":"left","labels":false,"ticks":false,"domain":false,"titleFontSize":11.5,"titleAngle":270,"titleX":-67,"titleY":27,"titleAlign":"left","titleBaseline":"alphabetic"}}}}
  ],
  "resolve":{"axis":{"y":"independent"}}}
 ]}
]
}
